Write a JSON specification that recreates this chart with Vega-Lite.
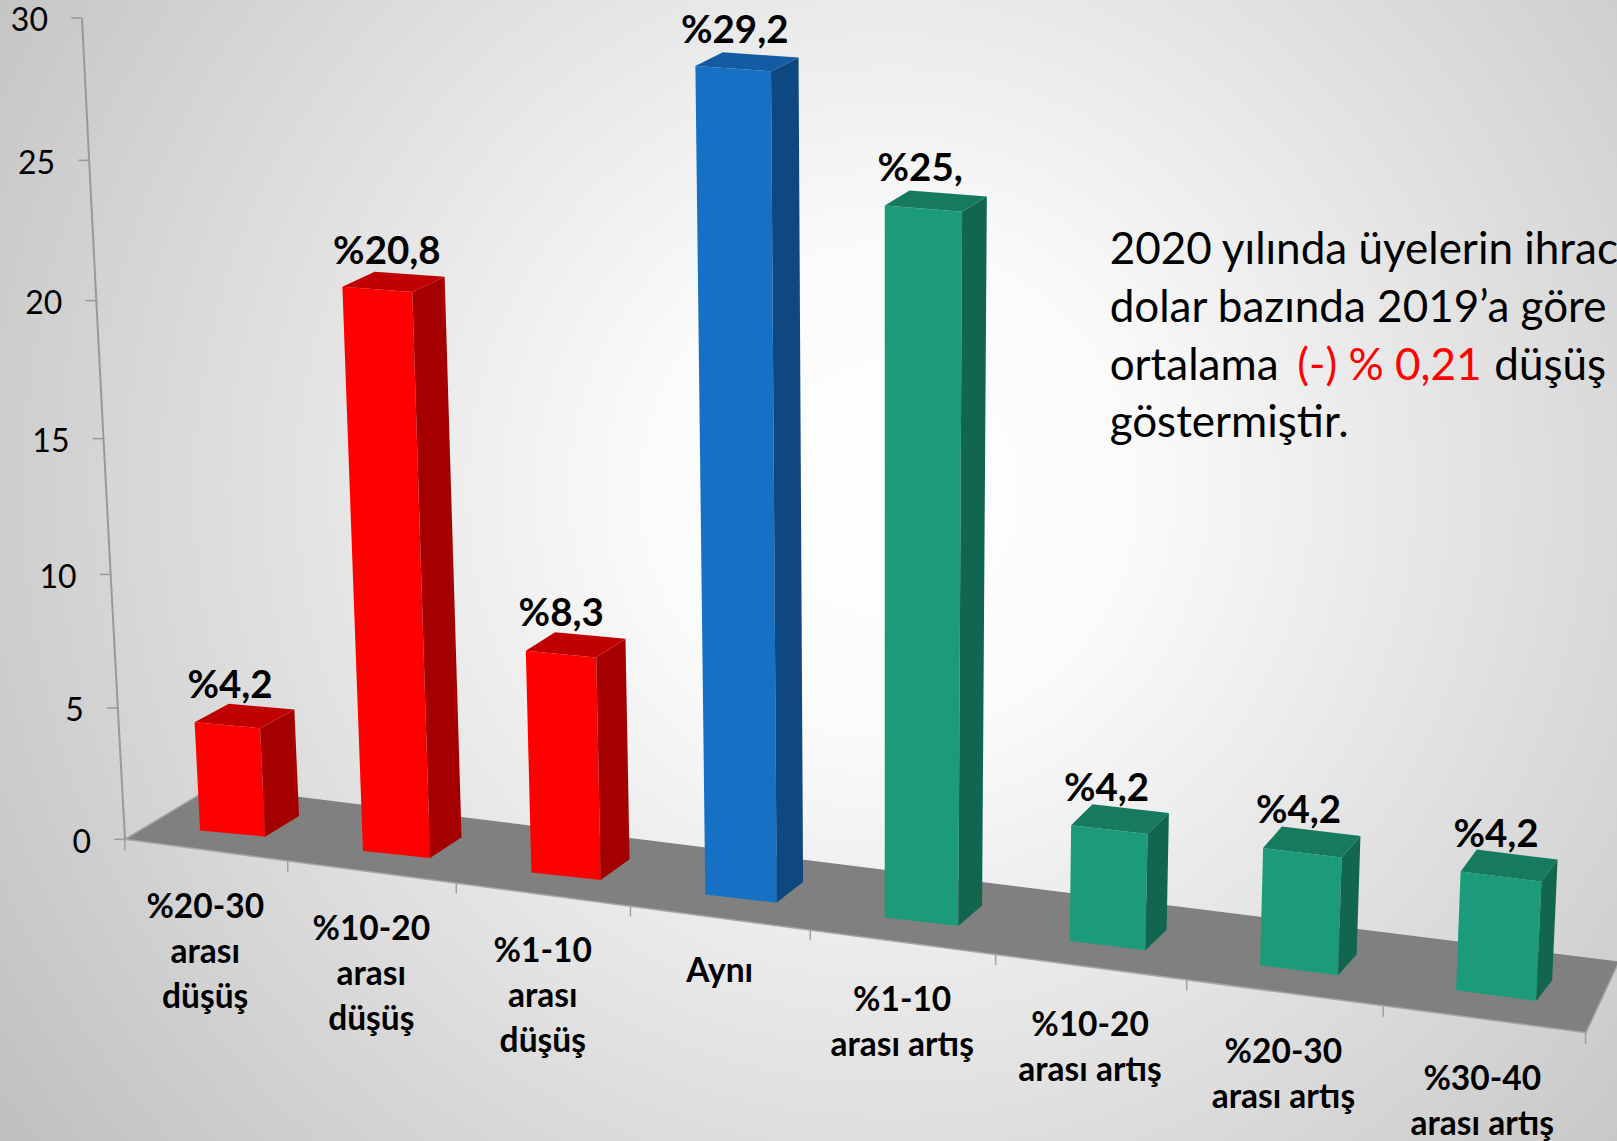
{
"$schema":"https://vega.github.io/schema/vega-lite/v6.json",
"width":1617,"height":1141,"padding":0,"autosize":{"type":"none"},
"background":"#ffffff",
"config":{"view":{"stroke":null},"text":{"font":"Lato"}},
"datasets":{"cubuklar":[
{"kategori":"%20-30\narası\ndüşüş","grup":"d","deger":4.2,"etiket":"%4,2"},
{"kategori":"%10-20\narası\ndüşüş","grup":"d","deger":20.8,"etiket":"%20,8"},
{"kategori":"%1-10\narası\ndüşüş","grup":"d","deger":8.3,"etiket":"%8,3"},
{"kategori":"Aynı","grup":"a","deger":29.2,"etiket":"%29,2"},
{"kategori":"%1-10\narası artış","grup":"r","deger":25,"etiket":"%25,"},
{"kategori":"%10-20\narası artış","grup":"r","deger":4.2,"etiket":"%4,2"},
{"kategori":"%20-30\narası artış","grup":"r","deger":4.2,"etiket":"%4,2"},
{"kategori":"%30-40\narası artış","grup":"r","deger":4.2,"etiket":"%4,2"}
],
"eksen":[{"v":0},{"v":5},{"v":10},{"v":15},{"v":20},{"v":25},{"v":30}]},
"encoding":{
"x":{"field":"px","type":"quantitative","axis":null,"scale":{"domain":[0,1568],"nice":false,"zero":false}},
"y":{"field":"py","type":"quantitative","axis":null,"scale":{"domain":[1106,0],"nice":false,"zero":false}}
},
"layer":[
{"data":{"values":[{"ad":"arka plan"}]},
 "transform":[{"calculate":"0","as":"px"},{"calculate":"1568","as":"px2"},{"calculate":"0","as":"py"},{"calculate":"1106","as":"py2"}],
 "mark":{"type":"rect","color":{"gradient":"radial","x1":0.55,"y1":0.45,"r1":0,"x2":0.55,"y2":0.45,"r2":0.78,"stops":[{"offset":0,"color":"#ffffff"},{"offset":0.2,"color":"#fafafa"},{"offset":1,"color":"#b4b4b4"}]}},
 "encoding":{"x2":{"field":"px2"},"y2":{"field":"py2"}}},
{"data":{"values":[{"ad":"zemin"}]},
 "transform":[{"calculate":"[0,1,2,3]","as":"c"},{"flatten":["c"]},
  {"calculate":"[207,121,1538,1570][datum.c]","as":"px"},{"calculate":"[762,813.6,1001,932][datum.c]","as":"py"}],
 "mark":{"type":"line","fill":"#808080","stroke":"#a6a6a6","strokeWidth":1.5,"filled":true},
 "encoding":{"order":{"field":"c"}}},
{"data":{"values":[{"ad":"x ekseni"}]},
 "transform":[{"calculate":"[0,1,2,3,4,5,6,7,8]","as":"k"},{"flatten":["k"]},
  {"calculate":"121+155.3*datum.k+2.72*datum.k*datum.k","as":"px"},
  {"calculate":"datum.px","as":"px2"},
  {"calculate":"813.6+20*datum.k+0.43*datum.k*datum.k","as":"py"},
  {"calculate":"datum.py+11","as":"py2"}],
 "mark":{"type":"rule","stroke":"#a0a0a0","strokeWidth":1.5},
 "encoding":{"x2":{"field":"px2"},"y2":{"field":"py2"}}},
{"data":{"name":"cubuklar"},
 "transform":[
  {"window":[{"op":"row_number","as":"n"}]},
  {"calculate":"datum.n-1","as":"i"},
  {"calculate":"194+155.3*datum.i+2.67*datum.i*datum.i","as":"blx"},
  {"calculate":"805+19.64*datum.i+0.357*datum.i*datum.i","as":"bly"},
  {"calculate":"63+2.1*datum.i","as":"w"},
  {"calculate":"datum.deger*(24.7+0.35*datum.i+0.06*datum.deger)","as":"u"},
  {"calculate":"datum.blx+(datum.blx-857)*0.0019*datum.deger","as":"tlx"},
  {"calculate":"datum.bly-datum.u","as":"tly"},
  {"calculate":"datum.w*(1+0.002*datum.deger)","as":"w2"},
  {"calculate":"6+0.6*datum.i","as":"s"},
  {"calculate":"datum.s*(1-0.012*datum.deger)","as":"s2"},
  {"calculate":"33-2.5*datum.i","as":"bdx"},
  {"calculate":"datum.bdx+0.04*datum.deger","as":"tdx"},
  {"calculate":"-(19+0.5*datum.i)*(1-0.012*datum.deger)","as":"tdy"},
  {"calculate":"[[0,0,datum.tlx,datum.tly],[0,1,datum.tlx+datum.w2,datum.tly+datum.s2],[0,2,datum.blx+datum.w,datum.bly+datum.s],[0,3,datum.blx,datum.bly],[1,0,datum.tlx+datum.w2,datum.tly+datum.s2],[1,1,datum.tlx+datum.w2+datum.tdx,datum.tly+datum.s2+datum.tdy],[1,2,datum.blx+datum.w+datum.bdx,datum.bly+datum.s-20],[1,3,datum.blx+datum.w,datum.bly+datum.s],[2,0,datum.tlx,datum.tly],[2,1,datum.tlx+datum.tdx,datum.tly+datum.tdy],[2,2,datum.tlx+datum.w2+datum.tdx,datum.tly+datum.s2+datum.tdy],[2,3,datum.tlx+datum.w2,datum.tly+datum.s2]]","as":"kose"},
  {"flatten":["kose"]},
  {"calculate":"datum.kose[0]","as":"yuz"},
  {"calculate":"datum.kose[1]","as":"c"},
  {"calculate":"datum.kose[2]","as":"px"},
  {"calculate":"datum.kose[3]","as":"py"},
  {"calculate":"datum.grup+datum.yuz","as":"renk"},
  {"calculate":"datum.i+'-'+datum.yuz","as":"parca"}
 ],
 "mark":{"type":"line","filled":true,"strokeWidth":0},
 "encoding":{
  "order":{"field":"c"},
  "detail":{"field":"parca"},
  "fill":{"field":"renk","legend":null,"scale":{"domain":["d0","d1","d2","a0","a1","a2","r0","r1","r2"],"range":["#ff0000","#a50000","#c00000","#1670c4","#0f4880","#135ca4","#1c9b7a","#126650","#167a5f"]}}
 }},
{"data":{"name":"eksen"},
 "transform":[{"calculate":"121.2-1.39*datum.v","as":"px"},{"calculate":"813.6-datum.v*(25.25+0.043*datum.v)","as":"py"}],
 "mark":{"type":"line","stroke":"#999999","strokeWidth":2},
 "encoding":{"order":{"field":"v"}}},
{"data":{"name":"eksen"},
 "transform":[{"calculate":"121.2-1.39*datum.v","as":"px"},{"calculate":"datum.px-10.5","as":"px2"},{"calculate":"813.6-datum.v*(25.25+0.043*datum.v)","as":"py"},{"calculate":"datum.py","as":"py2"}],
 "mark":{"type":"rule","stroke":"#999999","strokeWidth":1.5},
 "encoding":{"x2":{"field":"px2"},"y2":{"field":"py2"}}},
{"data":{"name":"eksen"},
 "transform":[{"calculate":"121.2-1.39*datum.v-33","as":"px"},{"calculate":"813.6-datum.v*(25.25+0.043*datum.v)+13","as":"py"}],
 "mark":{"type":"text","align":"right","baseline":"alphabetic","fontSize":32,"color":"#000000"},
 "encoding":{"text":{"field":"v","type":"quantitative"}}},
{"data":{"name":"cubuklar"},
 "transform":[{"window":[{"op":"row_number","as":"n"}]},{"calculate":"datum.n-1","as":"i"},
  {"calculate":"199+158.35*datum.i+2.65*datum.i*datum.i","as":"px"},
  {"calculate":"890+20.5*datum.i+0.47*datum.i*datum.i+(datum.kategori=='Aynı'?-4:0)","as":"py"}],
 "mark":{"type":"text","align":"center","baseline":"alphabetic","fontSize":33.5,"fontWeight":"bold","lineBreak":"\n","lineHeight":45,"color":"#000000"},
 "encoding":{"text":{"field":"kategori"}}},
{"data":{"name":"cubuklar"},
 "transform":[{"window":[{"op":"row_number","as":"n"}]},{"calculate":"datum.n-1","as":"i"},
  {"calculate":"194+155.3*datum.i+2.67*datum.i*datum.i","as":"blx"},
  {"calculate":"805+19.64*datum.i+0.357*datum.i*datum.i","as":"bly"},
  {"calculate":"datum.deger>20&&datum.deger!=25","as":"uzun"},
  {"calculate":"datum.blx+(datum.blx-857)*0.0019*datum.deger-7+(datum.uzun?-2-0.6*(datum.deger-20.8):0)","as":"px"},
  {"calculate":"datum.bly-datum.deger*(24.7+0.35*datum.i+0.06*datum.deger)-24+(datum.uzun?2:0)","as":"py"}],
 "mark":{"type":"text","align":"left","baseline":"alphabetic","fontSize":38.5,"fontWeight":"bold","color":"#000000"},
 "encoding":{"text":{"field":"etiket"}}},
{"data":{"values":[{"metin":"2020 yılında üyelerin ihrac","satir":0},{"metin":"dolar bazında 2019’a göre","satir":1},{"metin":"ortalama","satir":2},{"metin":"göstermiştir.","satir":3}]},
 "transform":[{"calculate":"1076","as":"px"},{"calculate":"256+56*datum.satir","as":"py"}],
 "mark":{"type":"text","align":"left","baseline":"alphabetic","fontSize":44,"color":"#000000"},
 "encoding":{"text":{"field":"metin"}}},
{"data":{"values":[{"metin":"(-) % 0,21","satir":2}]},
 "transform":[{"calculate":"1258","as":"px"},{"calculate":"256+56*datum.satir","as":"py"}],
 "mark":{"type":"text","align":"left","baseline":"alphabetic","fontSize":44,"color":"#ff0000"},
 "encoding":{"text":{"field":"metin"}}},
{"data":{"values":[{"metin":"düşüş","satir":2}]},
 "transform":[{"calculate":"1449","as":"px"},{"calculate":"256+56*datum.satir","as":"py"}],
 "mark":{"type":"text","align":"left","baseline":"alphabetic","fontSize":44,"color":"#000000"},
 "encoding":{"text":{"field":"metin"}}}
]
}
